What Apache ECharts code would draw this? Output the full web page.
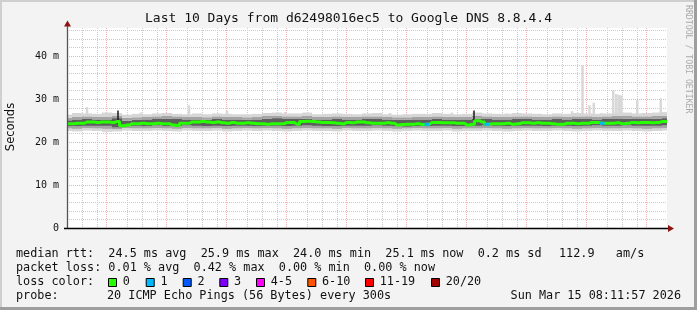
<!DOCTYPE html>
<html>
<head>
<meta charset="utf-8">
<script src="https://cdn.jsdelivr.net/npm/echarts@6/dist/echarts.min.js"></script>
<style>
  html, body { margin: 0; padding: 0; background: #f3f3f3; }
  #chart { width: 697px; height: 310px; }
</style>
</head>
<body>
<div id="chart"></div>
<script>
// hours after 05 Mar 00:00 -> graph covers the last 10 days up to 15 Mar 08:11:57
const START = 8 + 11 / 60 + 57 / 3600;
const END = START + 240;

const dayLabels = ['05 Mar', '06 Mar', '07 Mar', '08 Mar', '09 Mar', '10 Mar', '11 Mar', '12 Mar', '13 Mar', '14 Mar'];
const midnightHours = [24, 48, 72, 96, 120, 144, 168, 192, 216, 240];
const majorRtt = [10, 20, 30, 40];

// median rtt (ms), one value every 2 h
const medianRtt = [
  24.3, 24.3, 24.4, 24.4, 24.7, 24.7, 24.6, 24.7, 24.7, 24.6,
  24.8, 23.8, 24.0, 24.3, 24.3, 24.4, 24.3, 24.3, 24.4, 24.3,
  24.3, 24.0, 23.9, 24.4, 24.4, 24.7, 24.7, 24.8, 24.7, 24.6,
  24.7, 24.5, 24.4, 24.6, 24.4, 24.4, 24.5, 24.4, 24.3, 24.3,
  24.2, 24.3, 24.3, 24.3, 24.6, 24.6, 24.2, 24.8, 24.9, 24.8,
  24.7, 24.6, 24.6, 24.5, 24.4, 24.3, 24.6, 24.5, 24.7, 24.7,
  24.5, 24.4, 24.4, 24.4, 24.5, 24.4, 24.0, 24.1, 24.2, 24.2,
  24.3, 24.1, 24.2, 24.6, 24.6, 24.5, 24.5, 24.5, 24.4, 24.4,
  24.0, 24.2, 25.0, 24.7, 24.2, 24.3, 24.3, 24.3, 24.4, 24.2,
  24.3, 24.5, 24.5, 24.4, 24.5, 24.4, 24.4, 24.3, 24.2, 24.2,
  24.4, 24.4, 24.3, 24.4, 24.4, 24.6, 24.6, 24.4, 24.4, 24.4,
  24.5, 24.3, 24.4, 24.6, 24.5, 24.6, 24.6, 24.5, 24.6, 24.8,
  24.8
];
// median samples that lost 1 of 20 pings
const lossOneIdx = [72, 84, 107];

// smoke: ping distribution every 4 h (ms)
const smokeLo = [
  22.6, 22.5, 22.7, 22.6, 22.4, 22.5, 22.7, 22.6, 22.6, 22.7,
  22.6, 22.5, 22.7, 22.6, 22.6, 22.7, 22.5, 22.6, 22.7, 22.6,
  22.7, 22.6, 22.5, 22.6, 22.7, 22.6, 22.6, 22.5, 22.7, 22.6,
  22.6, 22.7, 22.6, 22.5, 22.6, 22.7, 22.6, 22.6, 22.7, 22.5,
  22.6, 22.6, 22.7, 22.6, 22.5, 22.6, 22.7, 22.6, 22.6, 22.7,
  22.6, 22.5, 22.6, 22.7, 22.6, 22.6, 22.7, 22.6, 22.5, 22.6, 22.7
];
const smokeQ1 = [
  23.2, 23.1, 23.3, 23.2, 23.1, 23.0, 23.3, 23.2, 23.2, 23.3,
  23.2, 23.1, 23.3, 23.2, 23.2, 23.3, 23.1, 23.2, 23.3, 23.2,
  23.3, 23.2, 23.1, 23.2, 23.3, 23.2, 23.2, 23.1, 23.3, 23.2,
  23.2, 23.3, 23.2, 23.1, 23.2, 23.3, 23.2, 23.2, 23.3, 23.1,
  23.2, 23.2, 23.3, 23.2, 23.1, 23.2, 23.3, 23.2, 23.2, 23.3,
  23.2, 23.1, 23.2, 23.3, 23.2, 23.2, 23.3, 23.2, 23.1, 23.2, 23.3
];
const smokeQ2 = [
  23.7, 23.7, 23.8, 23.8, 23.8, 23.4, 23.7, 23.8, 23.7, 23.9,
  23.7, 23.8, 23.9, 23.8, 23.7, 23.8, 23.7, 23.8, 23.8, 23.7,
  23.8, 23.8, 23.7, 23.8, 23.9, 23.8, 23.7, 23.7, 23.8, 23.8,
  23.8, 23.9, 23.8, 23.7, 23.6, 23.7, 23.7, 23.8, 23.8, 23.7,
  23.7, 23.8, 23.9, 23.8, 23.7, 23.8, 23.8, 23.8, 23.7, 23.8,
  23.8, 23.7, 23.8, 23.9, 23.8, 23.8, 23.9, 23.8, 23.8, 23.8, 23.9
];
const smokeQ3 = [
  25.1, 25.3, 25.4, 25.3, 25.3, 25.6, 25.0, 25.2, 25.3, 25.4,
  25.5, 25.4, 25.3, 25.3, 25.2, 25.4, 25.3, 25.3, 25.2, 25.3,
  25.5, 25.6, 25.4, 25.4, 25.5, 25.3, 25.3, 25.4, 25.3, 25.3,
  25.4, 25.4, 25.3, 25.2, 25.2, 25.3, 25.3, 25.4, 25.3, 25.3,
  25.3, 25.5, 25.4, 25.3, 25.3, 25.4, 25.4, 25.3, 25.3, 25.4,
  25.3, 25.4, 25.4, 25.3, 25.4, 25.4, 25.5, 25.4, 25.4, 25.5, 25.6
];
const smokeQ4 = [
  25.7, 25.9, 26.0, 25.9, 25.9, 26.2, 25.7, 25.8, 25.9, 26.0,
  26.1, 26.0, 25.9, 25.9, 25.8, 26.0, 25.9, 25.9, 25.8, 25.9,
  26.1, 26.2, 26.0, 26.0, 26.1, 25.9, 25.9, 26.0, 25.9, 25.9,
  26.0, 26.0, 25.9, 25.8, 25.8, 25.9, 25.9, 26.0, 25.9, 25.9,
  25.9, 26.1, 26.0, 25.9, 25.9, 26.0, 26.0, 25.9, 25.9, 26.0,
  25.9, 26.0, 26.0, 25.9, 26.0, 26.1, 26.1, 26.0, 26.0, 26.1, 26.2
];
const smokeHi = [
  26.4, 26.8, 26.7, 26.6, 26.9, 26.8, 26.4, 26.6, 26.5, 26.7,
  26.8, 26.6, 26.5, 26.7, 26.5, 26.7, 26.6, 26.5, 26.5, 26.6,
  26.8, 26.9, 26.7, 26.7, 26.9, 26.5, 26.6, 26.7, 26.6, 26.5,
  26.7, 26.8, 26.5, 26.4, 26.5, 26.6, 26.6, 26.8, 26.6, 26.5,
  26.6, 26.9, 26.7, 26.6, 26.6, 26.8, 26.7, 26.6, 26.5, 26.7,
  26.6, 26.8, 26.7, 26.6, 26.7, 26.8, 26.9, 26.7, 26.8, 26.9, 27.0
];

// single high pings (hour, ms)
const spikeHour = [16.2, 37.8, 57.0, 72.2, 95.4, 137.4, 151.4, 158.6, 162.2, 184.2, 197.4,
  210.2, 214.4, 217.2, 218.9, 221.8, 226.7, 227.9, 228.9, 229.9, 236.3, 243.4, 245.7];
const spikeTop = [28.2, 26.9, 28.6, 27.4, 27.0, 26.8, 26.4, 26.6, 26.9, 26.7, 26.6,
  27.2, 37.9, 28.6, 29.2, 26.8, 32.1, 31.2, 31.0, 30.9, 29.8, 26.8, 30.2];
// dark columns where all pings were high
const darkHour = [28.6, 171.0];
const darkLow = [24.4, 24.6];
const darkTop = [27.4, 27.4];

const lossLabels = ['0', '1', '2', '3', '4-5', '6-10', '11-19', '20/20'];
const lossColors = ['#26ff00', '#00b8ff', '#0059ff', '#7e00ff', '#ff00ff', '#ff5500', '#ff0000', '#a10000'];
const lossBoxX = [108, 145.7, 182.7, 219.3, 256, 307.3, 365, 431];

const SPIKE_BASE = 25.8;
const MONO = 'DejaVu Sans Mono';

const medianData = medianRtt.map((v, i) => [START + 2 * i, v]);
const smokeData = smokeLo.map((v, i) => [START + 4 * i, v, smokeQ1[i], smokeQ2[i], smokeQ3[i], smokeQ4[i], smokeHi[i]]);
const shades = ['#d6d6d6', '#a4a4a4', '#5e5e5e', '#a4a4a4', '#d6d6d6'];

const lossSeg = [];
lossOneIdx.forEach(i => {
  lossSeg.push([START + 2 * i - 1, medianRtt[i]], [START + 2 * i + 1, medianRtt[i]], '-');
});

const spikeData = spikeHour.map((t, i) => [t, SPIKE_BASE, spikeTop[i], 0])
  .concat(darkHour.map((t, i) => [t, darkLow[i], darkTop[i], 1]));

// major grid rows: [x value, y value, 0 = vertical | 1 = horizontal]
const majorGridData = midnightHours.map(h => [h, 0, 0]).concat(majorRtt.map(v => [START, v, 1]));

const chart = echarts.init(document.getElementById('chart'), null, { renderer: 'canvas', width: 697, height: 310 });

const legendText = (text, x, y, align) => ({
  type: 'text', silent: true,
  style: { text, x, y, font: '11.8px ' + MONO, fill: '#111', verticalAlign: 'middle', align: align || 'left' }
});

const graphics = [
  { type: 'rect', shape: { x: 0, y: 0, width: 697, height: 2 }, style: { fill: '#cfcfcf' } },
  { type: 'rect', shape: { x: 0, y: 0, width: 2, height: 310 }, style: { fill: '#cfcfcf' } },
  { type: 'rect', shape: { x: 0, y: 307, width: 697, height: 3 }, style: { fill: '#9e9e9e' } },
  { type: 'rect', shape: { x: 694, y: 0, width: 3, height: 310 }, style: { fill: '#9e9e9e' } },
  // axis lines and arrows
  { type: 'line', shape: { x1: 67.5, y1: 229, x2: 67.5, y2: 25 }, style: { stroke: '#555', lineWidth: 1.3 }, z: 10 },
  { type: 'line', shape: { x1: 64, y1: 228.5, x2: 669, y2: 228.5 }, style: { stroke: '#000', lineWidth: 1.3 }, z: 10 },
  { type: 'polygon', shape: { points: [[64, 26.5], [71, 26.5], [67.5, 20.5]] }, style: { fill: '#8e1414' }, z: 10 },
  { type: 'polygon', shape: { points: [[668, 225], [668, 232], [674, 228.5]] }, style: { fill: '#8e1414' }, z: 10 },
  // titles
  { type: 'text', silent: true, style: { text: 'Last 10 Days from d62498016ec5 to Google DNS 8.8.4.4', x: 348.5, y: 19, font: '13px ' + MONO, fill: '#111', align: 'center', verticalAlign: 'middle' } },
  { type: 'text', silent: true, x: 11, y: 127, rotation: Math.PI / 2, style: { text: 'Seconds', x: 0, y: 0, font: '11.5px DejaVu Sans', fill: '#111', align: 'center', verticalAlign: 'middle' } },
  { type: 'text', silent: true, x: 688.5, y: 5, rotation: -Math.PI / 2, style: { text: 'RRDTOOL / TOBI OETIKER', x: 0, y: 0, font: '8.2px ' + MONO, fill: '#aaaaaa', align: 'left', verticalAlign: 'middle' } },
  // legend block
  legendText('median rtt:  24.5 ms avg  25.9 ms max  24.0 ms min  25.1 ms now  0.2 ms sd', 16, 254),
  legendText('112.9   am/s', 559, 254),
  legendText('packet loss: 0.01 % avg  0.42 % max  0.00 % min  0.00 % now', 16, 268),
  legendText('loss color:', 16, 282),
  legendText('probe:', 16, 296),
  legendText('20 ICMP Echo Pings (56 Bytes) every 300s', 107, 296),
  legendText('Sun Mar 15 08:11:57 2026', 681, 296, 'right')
];
lossLabels.forEach((lab, i) => {
  graphics.push({ type: 'rect', shape: { x: lossBoxX[i] + 0.5, y: 278.5, width: 8, height: 8 }, style: { fill: lossColors[i], stroke: '#000', lineWidth: 1 } });
  graphics.push(legendText(lab, lossBoxX[i] + 14.7, 282));
});

const minorGrey = '#cccccc';
const majorRed = '#eeb0b0';

const option = {
  backgroundColor: '#f3f3f3',
  animation: false,
  grid: { left: 67, top: 28, width: 600, height: 200, show: true, backgroundColor: '#ffffff', borderWidth: 0 },
  xAxis: [
    {
      // minor grid every 6 h; the midnight slots are left empty for the red major lines
      type: 'value', min: START, max: END, interval: 6, position: 'bottom',
      axisLine: { show: false }, axisTick: { show: false }, axisLabel: { show: false },
      splitLine: { show: true, showMaxLine: false, lineStyle: { color: [minorGrey, minorGrey, minorGrey, 'transparent'], type: [1, 1], width: 1 } }
    },
    {
      type: 'value', min: START, max: END, interval: 12, position: 'bottom',
      axisLine: { show: false }, axisTick: { show: false }, splitLine: { show: false },
      axisLabel: {
        margin: 5, fontSize: 10, fontFamily: MONO, color: '#111',
        formatter: v => {
          const k = (v - 12) / 24;
          return Math.abs(k - Math.round(k)) < 1e-6 && dayLabels[Math.round(k)] ? dayLabels[Math.round(k)] : '';
        }
      }
    }
  ],
  yAxis: [
    {
      type: 'value', min: 0, max: 46.6, interval: 2, position: 'left',
      axisLine: { show: false }, axisTick: { show: false }, axisLabel: { show: false },
      splitLine: { show: true, showMaxLine: false, lineStyle: { color: ['transparent', minorGrey, minorGrey, minorGrey, minorGrey], type: [1, 1], width: 1 } }
    },
    {
      type: 'value', min: 0, max: 46.6, interval: 10, position: 'left',
      axisLine: { show: false }, axisTick: { show: false }, splitLine: { show: false },
      axisLabel: {
        margin: 8, fontSize: 10, fontFamily: MONO, color: '#111', showMaxLabel: false,
        formatter: v => (v === 0 ? '0' : v + ' m')
      }
    }
  ],
  series: [
    {
      // major grid: midnight and every 10 ms, snapped to whole pixels
      name: 'majorGrid', type: 'custom', data: majorGridData, silent: true, z: 1,
      encode: { x: 0, y: 1 },
      renderItem: (params, api) => {
        const cs = params.coordSys;
        const p = api.coord([api.value(0), api.value(1)]);
        const vertical = api.value(2) === 0;
        const shape = vertical
          ? { x1: Math.floor(p[0]) + 0.5, y1: cs.y, x2: Math.floor(p[0]) + 0.5, y2: cs.y + cs.height }
          : { x1: cs.x, y1: Math.floor(p[1]) + 0.5, x2: cs.x + cs.width, y2: Math.floor(p[1]) + 0.5 };
        return { type: 'line', shape, style: { stroke: majorRed, lineWidth: 1, lineDash: [1, 1] } };
      }
    },
    {
      name: 'spikes', type: 'custom', data: spikeData, silent: true, z: 2,
      encode: { x: 0, y: [1, 2] },
      renderItem: (params, api) => {
        const p0 = api.coord([api.value(0), api.value(1)]);
        const p1 = api.coord([api.value(0), api.value(2)]);
        const dark = api.value(3) === 1;
        const w = dark ? 1.5 : 2.5;
        return {
          type: 'rect',
          shape: { x: p0[0] - w / 2, y: p1[1], width: w, height: p0[1] - p1[1] },
          style: { fill: dark ? '#1a1a1a' : '#d8d8d8' },
          z2: dark ? 20 : 0
        };
      }
    },
    {
      name: 'smoke', type: 'custom', data: smokeData, silent: true, z: 2,
      encode: { x: 0, y: [1, 2, 3, 4, 5, 6] },
      renderItem: (params, api) => {
        const t = api.value(0);
        const xa = api.coord([t - 2, 0])[0];
        const xb = api.coord([t + 2, 0])[0];
        const ys = [1, 2, 3, 4, 5, 6].map(k => api.coord([t, api.value(k)])[1]);
        const children = shades.map((c, k) => ({
          type: 'rect',
          shape: { x: xa, y: ys[k + 1], width: xb - xa, height: ys[k] - ys[k + 1] },
          style: { fill: c }
        }));
        return { type: 'group', children };
      },
      clip: true
    },
    {
      name: 'median', type: 'line', step: 'middle', data: medianData, symbol: 'none', silent: true,
      lineStyle: { color: '#26ff00', width: 3 }, z: 3
    },
    {
      name: 'loss1', type: 'line', data: lossSeg, symbol: 'none', silent: true, connectNulls: false,
      lineStyle: { color: '#00b8ff', width: 3 }, z: 3
    }
  ],
  graphic: graphics
};

chart.setOption(option);
</script>
</body>
</html>
